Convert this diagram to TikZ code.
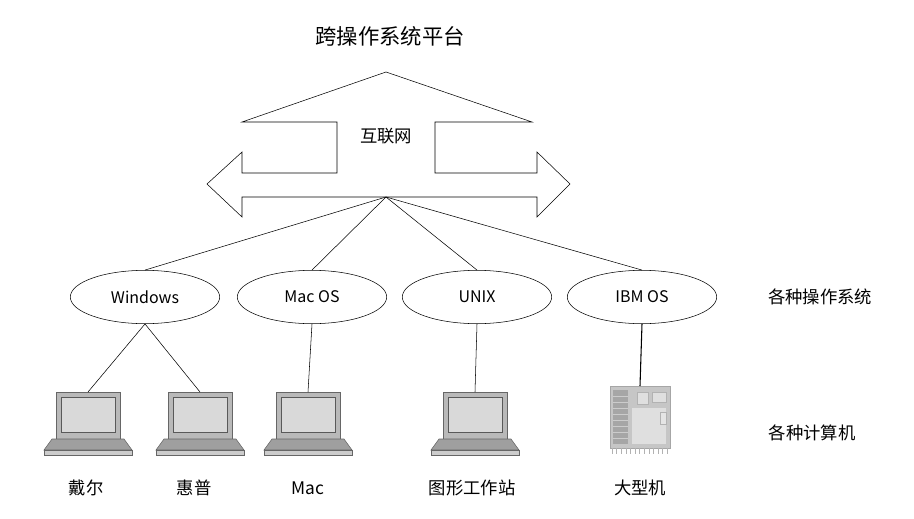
\documentclass[tikz,border=0pt]{standalone}
\usepackage{fontspec}
\setmainfont{Noto Sans CJK SC}
\usetikzlibrary{shapes.geometric,positioning}
\tikzset{os/.style={ellipse, draw, thin, minimum width=112pt, minimum height=40pt, inner sep=0pt, font=\fontsize{12}{14}\selectfont},
  lbl/.style={font=\fontsize{13}{15}\selectfont},
  link/.style={draw, thin},
  laptop/.pic={
    \draw[gray!80!black, fill=gray!55] (-32,0) rectangle (32,47);
    \draw[gray!70!black, fill=gray!30] (-27,5) rectangle (27,40);
    \draw[gray!80!black, fill=gray!75] (-36,47) -- (36,47) -- (44,58) -- (-44,58) -- cycle;
    \draw[gray!80!black, fill=gray!40] (-44,58) rectangle (44,63);
  },
  mainframe/.pic={
    \draw[gray!70, fill=gray!45] (-30,0) rectangle (30,62);
    \fill[gray!70] (-27,4) rectangle (-12,58);
    \foreach \k in {1,...,8} \draw[gray!40] (-27,4+6*\k) -- (-12,4+6*\k);
    \fill[gray!25] (-8,22) rectangle (26,58);
    \draw[gray!60, fill=gray!25] (-3,6) rectangle (8,18);
    \draw[gray!60, fill=gray!25] (12,6) rectangle (26,16);
    \draw[gray!60, fill=gray!20] (20,26) rectangle (26,38);
    \foreach \k in {0,...,12} \draw[gray!60] (-28+4.6*\k,62) -- (-28+4.6*\k,68);
  }}
\begin{document}
\begin{tikzpicture}[x=0.75pt, y=-0.75pt]
  \useasboundingbox (0,0) rectangle (914,518);
  \node[font=\fontsize{16}{18}\selectfont] (title) at (390,36) {跨操作系统平台};
  % internet arrow
  \draw[thin] (386,72) -- (532,122) -- (435,122) -- (435,173) -- (537,173) -- (537,152)
    -- (570,184) -- (537,217) -- (537,197) -- (242,197) -- (242,217) -- (207,184)
    -- (242,152) -- (242,173) -- (337,173) -- (337,122) -- (242,122) -- cycle;
  \node[lbl] (net) at (386,136) {互联网};
  \coordinate (hub) at (386,197);
  % operating systems
  \node[os] (win) at (145,297) {Windows};
  \node[os] (mac) at (312,297) {Mac OS};
  \node[os] (unix) at (477,297) {UNIX};
  \node[os] (ibm) at (642,297) {IBM OS};
  \node[lbl] (oslbl) at (820,297) {各种操作系统};
  \foreach \n in {win,mac,unix,ibm} \draw[link] (hub) -- (\n.north);
  % computers
  \pic at (88,392) {laptop};
  \pic at (200,392) {laptop};
  \pic at (308,392) {laptop};
  \pic at (475,392) {laptop};
  \pic at (640,386) {mainframe};
  \coordinate (dell) at (88,392);
  \coordinate (hp) at (200,392);
  \coordinate (macpc) at (308,392);
  \coordinate (ws) at (475,392);
  \coordinate (mf) at (640,386);
  \draw[link] (win.south) -- (dell);
  \draw[link] (win.south) -- (hp);
  \draw[link] (mac.south) -- (macpc);
  \draw[link] (unix.south) -- (ws);
  \draw[link, thick] (ibm.south) -- (mf);
  \node[lbl] (dellt) at (86,488) {戴尔};
  \node[lbl] (hpt) at (194,488) {惠普};
  \node[lbl] (mact) at (308,488) {Mac};
  \node[lbl] (wst) at (472,488) {图形工作站};
  \node[lbl] (mft) at (640,488) {大型机};
  \node[lbl] (pclbl) at (812,433) {各种计算机};
\end{tikzpicture}
\end{document}
